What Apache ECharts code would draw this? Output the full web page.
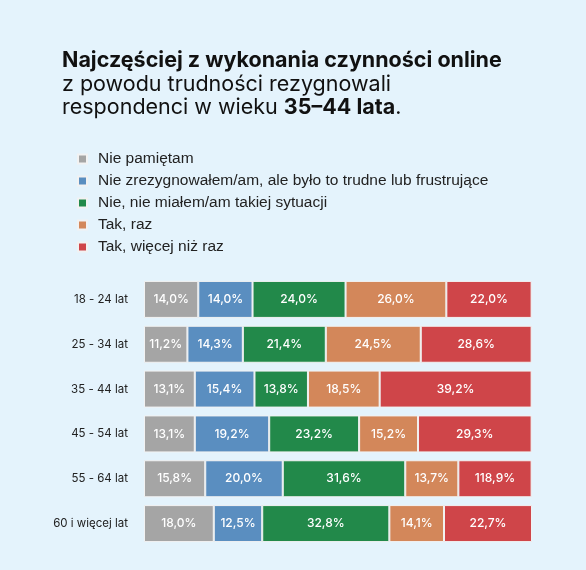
<!DOCTYPE html>
<html><head><meta charset="utf-8">
<script src="https://cdn.jsdelivr.net/npm/echarts@6/dist/echarts.min.js"></script>
<style>html,body{margin:0;padding:0;background:#e4f3fc}#c{width:586px;height:570px}</style>
</head><body><div id="c"></div>
<script>
var categories = ['18 - 24 lat','25 - 34 lat','35 - 44 lat','45 - 54 lat','55 - 64 lat','60 i więcej lat'];
var seriesNames = ['Nie pamiętam','Nie zrezygnowałem/am, ale było to trudne lub frustrujące','Nie, nie miałem/am takiej sytuacji','Tak, raz','Tak, więcej niż raz'];
var nie_pamietam = [14.0,11.2,13.1,13.1,15.8,18.0];
var trudne = [14.0,14.3,15.4,19.2,20.0,12.5];
var brak = [24.0,21.4,13.8,23.2,31.6,32.8];
var raz = [26.0,24.5,18.5,15.2,13.7,14.1];
var wiecej = [22.0,28.6,39.2,29.3,18.9,22.7];
var wiecejLabels = ['22,0%','28,6%','39,2%','29,3%','118,9%','22,7%'];
var colors = ['#a5a5a5','#5a8ec0','#22894a','#d3875a','#cf4549'];
var values = [nie_pamietam, trudne, brak, raz, wiecej];
var series = values.map(function(v,i){
  return {
    name: seriesNames[i], type:'bar', stack:'s', data:v, barWidth:37,
    itemStyle:{color:colors[i], borderColor:'#f2f2f2', borderWidth:1},
    label:{show:true, color:'#fff', fontSize:12, fontFamily:'Inter', fontWeight:500,
      formatter:function(p){ return i===4 ? wiecejLabels[p.dataIndex] : p.value.toFixed(1).replace('.',',')+'%'; }}
  };
});
var chart = echarts.init(document.getElementById('c'));
chart.setOption({
  backgroundColor:'#e4f3fc',
  animation:false,
  title:{left:57, top:44, text:'{b|Najczęściej z wykonania czynności online}\n{n|z powodu trudności rezygnowali}\n{n|respondenci w wieku }{b|35–44 lata}{n|.}',
    textStyle:{rich:{
      b:{fontFamily:'Inter',fontWeight:'bold',fontSize:21.5,color:'#111',lineHeight:23.5},
      n:{fontFamily:'Inter',fontWeight:'normal',fontSize:21.5,color:'#111',lineHeight:23.5}}}},
  legend:{orient:'vertical', left:72, top:146, itemWidth:9, itemHeight:9, itemGap:6, icon:'rect',
    textStyle:{fontFamily:'Liberation Sans', fontSize:15.5, color:'#222', padding:[0,0,0,6]}, data:seriesNames},
  grid:{left:144, right:54, top:277, bottom:24},
  xAxis:{type:'value', min:0, max:100.1, show:false},
  yAxis:{type:'category', data:categories, inverse:true, axisLine:{show:false}, axisTick:{show:false},
    axisLabel:{color:'#222', fontSize:11.5, fontFamily:'Inter', margin:16}},
  series:series
});
</script></body></html>
